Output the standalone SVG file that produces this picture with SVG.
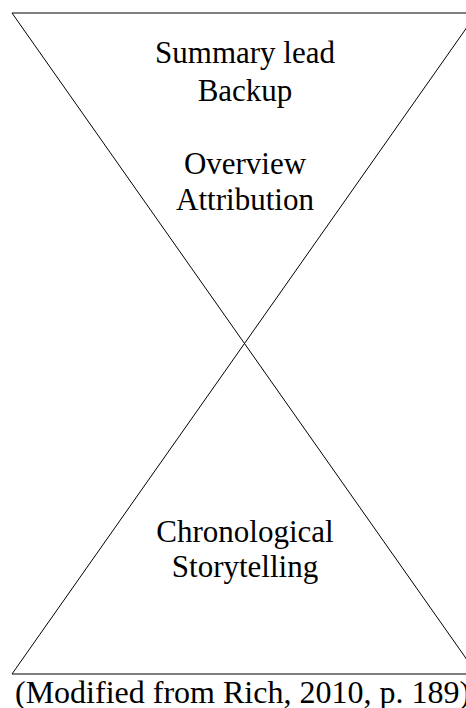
<svg xmlns="http://www.w3.org/2000/svg" width="466" height="708" viewBox="0 0 466 708">
<style>
.ln{stroke:#000;stroke-width:1;fill:none}
.t{font-family:"Liberation Serif","Times New Roman",serif;font-size:31px;fill:#000;text-anchor:middle}
.cap{font-family:"Liberation Serif","Times New Roman",serif;font-size:32px;fill:#000}
</style>
<rect width="466" height="708" fill="#fff"/>
<g id="connectors">
<line class="ln" x1="12" y1="13" x2="477" y2="13"/>
<line class="ln" x1="12" y1="674" x2="477" y2="674"/>
<line class="ln" x1="12" y1="13" x2="477" y2="674"/>
<line class="ln" x1="12" y1="674" x2="477" y2="13"/>
</g>
<g id="top">
<text class="t" x="245" y="63">Summary lead</text>
<text class="t" x="245" y="101">Backup</text>
<text class="t" x="245" y="174">Overview</text>
<text class="t" x="245" y="210">Attribution</text>
</g>
<g id="bottom">
<text class="t" x="245" y="542">Chronological</text>
<text class="t" x="245" y="577">Storytelling</text>
</g>
<g id="caption">
<text class="cap" x="15" y="703">(Modified from Rich, 2010, p. 189)</text>
</g>
</svg>
